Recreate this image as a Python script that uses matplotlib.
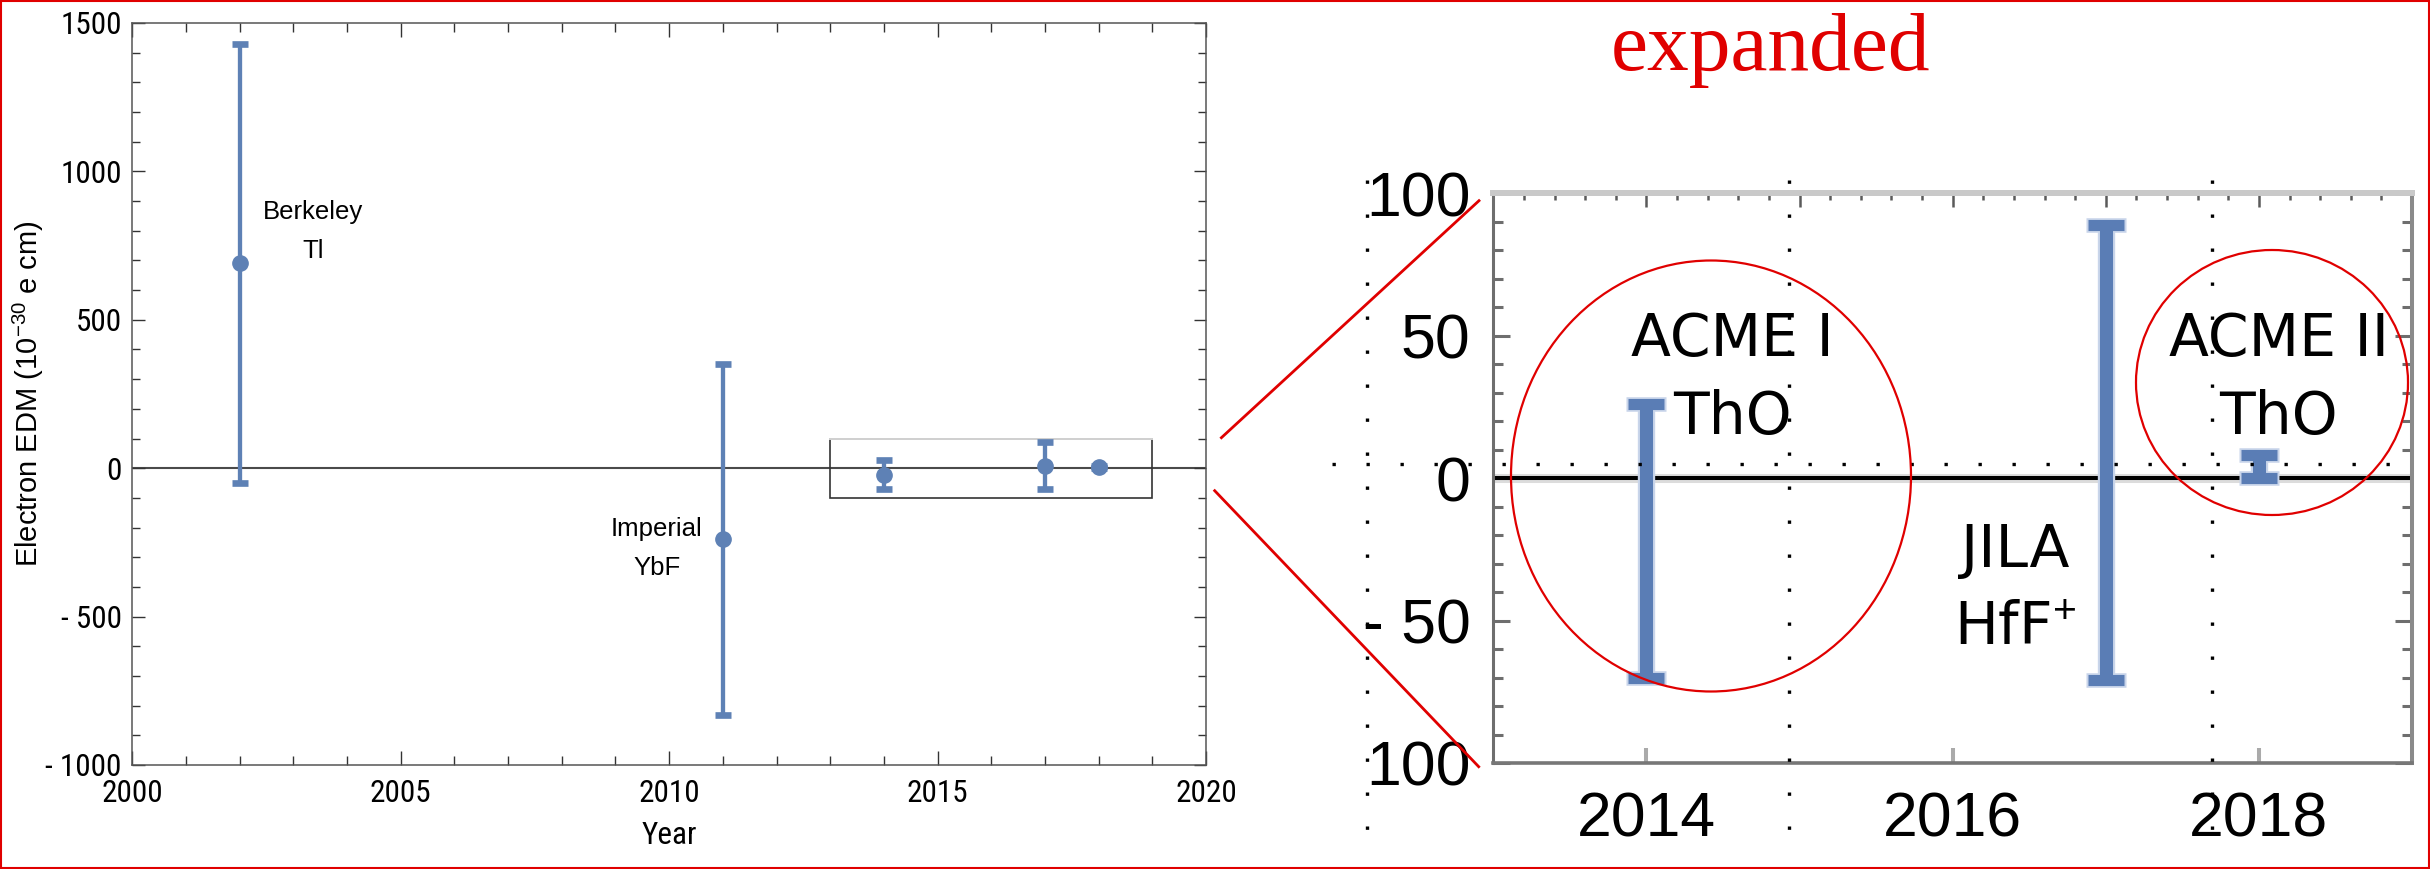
import matplotlib
matplotlib.use('Agg')
import matplotlib.pyplot as plt
from matplotlib import font_manager
from matplotlib.patches import Rectangle, Ellipse
from matplotlib.lines import Line2D
from matplotlib.ticker import MultipleLocator, FuncFormatter, NullLocator, FixedLocator

# electron EDM results, units of 1e-30 e cm
labels = ['Berkeley\nTl', 'Imperial\nYbF', 'ACME I\nThO', 'JILA\nHfF$^{+}$', 'ACME II\nThO']
years = [2002, 2011, 2014, 2017, 2018]
edm = [690, -240, -22, 9, 4]
err = [740, 590, 48, 80, 4]

# region shown expanded on the right
zoom_x = (2013, 2019)
zoom_y = (-100, 100)
zoom_yticks = [-100, -50, 0, 50, 100]
zoom_yticklabels = ['100', '- 50', '0', '50', '100']   # as printed in the picture
zoom_xticks = [2014, 2016, 2018]
zoom_top_ticks = [2013, 2014, 2015, 2016, 2017, 2018, 2019]

BLUE = '#5e81b5'
RED = '#e00000'
ARIAL = ['Liberation Sans', 'DejaVu Sans']

# tick numbers on the left plot are in a condensed face; use one if installed
installed = {f.name for f in font_manager.fontManager.ttflist}
NARROW = [n for n in ['Liberation Sans Narrow', 'Arial Narrow', 'Roboto Condensed']
          if n in installed] + ARIAL

plt.rcParams['mathtext.fontset'] = 'custom'
plt.rcParams['mathtext.rm'] = 'Liberation Sans'
plt.rcParams['mathtext.it'] = 'Liberation Sans:italic'

W, H = 2430, 869
fig = plt.figure(figsize=(W / 100, H / 100), dpi=100)


def minus_fmt(v, pos):
    v = int(round(v))
    return '- %d' % abs(v) if v < 0 else '%d' % v


# ---------------- left panel: full range ----------------
ax1 = fig.add_axes([132.3 / W, 1 - 765 / H, (1206 - 132.3) / W, (765 - 23) / H])
ax1.set_xlim(2000, 2020)
ax1.set_ylim(-1000, 1500)
ax1.xaxis.set_major_locator(MultipleLocator(5))
ax1.xaxis.set_minor_locator(MultipleLocator(1))
ax1.yaxis.set_major_locator(MultipleLocator(500))
ax1.yaxis.set_minor_locator(MultipleLocator(100))
ax1.yaxis.set_major_formatter(FuncFormatter(minus_fmt))
ax1.tick_params(which='both', direction='in', top=True, right=True, color='#333333', width=1,
                labelsize=22.5, labelfontfamily=NARROW)
ax1.tick_params(axis='x', which='major', length=10, pad=10.4)
ax1.tick_params(axis='x', which='minor', length=6.5)
ax1.tick_params(axis='y', which='major', length=9, pad=7.6)
ax1.tick_params(axis='y', which='minor', length=6)
for s in ax1.spines.values():
    s.set_color('#555555')
    s.set_linewidth(1.1)

ax1.axhline(0, color='#4a4a4a', lw=1.5, zorder=1)
ax1.add_patch(Rectangle((zoom_x[0], zoom_y[0]), zoom_x[1] - zoom_x[0], zoom_y[1] - zoom_y[0],
                        fill=False, ec='#333333', lw=1.2, zorder=1))
ax1.plot(zoom_x, [zoom_y[1], zoom_y[1]], color='#d4d4d4', lw=1.4, zorder=1)

ax1.errorbar(years, edm, yerr=err, fmt='o', color=BLUE, ms=11, elinewidth=3.1,
             capsize=6, capthick=4.8, zorder=3)

ax1.text(2003.36, 798, labels[0], ha='center', va='center', fontsize=18.5,
         family=ARIAL, linespacing=1.8)
ax1.text(2009.77, -270, labels[1], ha='center', va='center', fontsize=18.5,
         family=ARIAL, linespacing=1.8)

ax1.set_xlabel('Year', fontsize=22.5, family=NARROW)
ax1.xaxis.set_label_coords(0.5, -0.0755)
ax1.set_ylabel('Electron EDM (10$^{-30}$ e cm)', fontsize=21, family=ARIAL)
ax1.yaxis.set_label_coords(-0.0801, 0.5)

# ---------------- right panel: expanded ----------------
ax2 = fig.add_axes([1493.3 / W, 1 - 763 / H, (2412 - 1493.3) / W, (763 - 193.3) / H])
ax2.set_xlim(*zoom_x)
ax2.set_ylim(*zoom_y)
ax2.set_yticks(zoom_yticks)
ax2.set_yticklabels(zoom_yticklabels)
ax2.yaxis.set_minor_locator(MultipleLocator(10))
ax2.set_xticks(zoom_xticks)
ax2.xaxis.set_minor_locator(NullLocator())
ax2.tick_params(axis='y', which='both', direction='in', left=True, right=True,
                color='#6e6e6e', width=2.2, labelsize=45, pad=16.4, labelfontfamily=ARIAL)
ax2.tick_params(axis='y', which='major', length=12)
ax2.tick_params(axis='y', which='minor', length=7)
ax2.tick_params(axis='x', which='major', direction='in', top=False, length=11, width=2.9,
                color='#aaaaaa', labelsize=45, pad=20, labelfontfamily=ARIAL)
ax2.spines['left'].set(color='#6e6e6e', lw=2.2)
ax2.spines['bottom'].set(color='#777777', lw=2.6)
ax2.spines['right'].set(color='#8a8a8a', lw=2.9)
ax2.spines['top'].set(color='#c9c9c9', lw=4.3)

sec = ax2.secondary_xaxis('top')
sec.xaxis.set_major_locator(FixedLocator(zoom_top_ticks))
sec.xaxis.set_minor_locator(MultipleLocator(0.2))
sec.tick_params(which='both', direction='in', labeltop=False, color='#5a5a5a', width=1.8)
sec.tick_params(which='major', length=10)
sec.tick_params(which='minor', length=5)
sec.spines['top'].set(color='#c9c9c9', lw=4.3)

ax2.axhline(0, color='#dcdcdc', lw=6.5, zorder=1)
ax2.axhline(0, color='black', lw=2.9, zorder=2)

# soft halo then the bars (no centre markers in the expanded view)
ax2.errorbar(years[2:], edm[2:], yerr=err[2:], fmt='none', ecolor='#c9d5ea', elinewidth=12.5,
             capsize=14.6, capthick=10.5, zorder=3)
ax2.errorbar(years[2:], edm[2:], yerr=err[2:], fmt='none', ecolor='#5a7db5', elinewidth=9.4,
             capsize=13.3, capthick=8, zorder=4)

for (lx, ly), txt in zip([(2014.56, 35), (2016.41, -39), (2018.13, 35)], labels[2:]):
    ax2.text(lx, ly, txt, ha='center', va='center', fontsize=42,
             family='DejaVu Sans', linespacing=1.45, zorder=5)

# ---------------- red markup and stray dotted guides ----------------
fig.text(1771 / W, 1 - 70 / H, 'expanded', ha='center', va='baseline', color=RED,
         fontsize=60, family=['Liberation Serif', 'DejaVu Serif'])


def fig_line(px, py, **kw):
    fig.add_artist(Line2D([x / W for x in px], [1 - y / H for y in py],
                          transform=fig.transFigure, **kw))


fig_line([1221.4, 1479], [437.7, 200.7], color=RED, lw=2)
fig_line([1214.7, 1478.7], [490.7, 766.7], color=RED, lw=2)

dots = dict(color='black', lw=2.4, ls=(0, (1, 9.2)), zorder=6)
fig_line([1332, 2400], [464.3, 464.3], **dots)
for gx in (1366.7, 1789, 2212):
    fig_line([gx, gx], [180, 852], **dots)

for cx, cy, ew, eh in ((1711, 476, 400, 431), (2272, 382.5, 272, 265)):
    fig.add_artist(Ellipse((cx / W, 1 - cy / H), ew / W, eh / H, transform=fig.transFigure,
                           fill=False, ec=RED, lw=1.6, zorder=7))

fig.add_artist(Rectangle((1 / W, 1 / H), 1 - 2 / W, 1 - 2 / H, transform=fig.transFigure,
                         fill=False, ec=RED, lw=1.5, zorder=8))

fig.savefig('out.png', dpi=100)
